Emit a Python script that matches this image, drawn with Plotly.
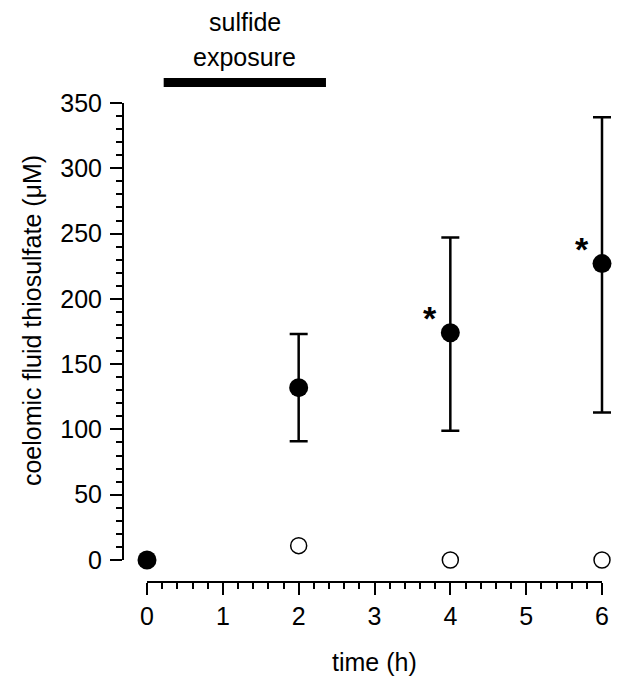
import plotly.graph_objects as go

# data
time_sulfide = [0, 2, 4, 6]
thio_sulfide = [0, 132, 174, 227]
err_plus = [0, 41, 73, 112]
err_minus = [0, 41, 75, 114]
time_control = [2, 4, 6]
thio_control = [11, 0, 0]
star_times = [4, 6]
star_values = [174, 227]
exposure_start = 0.22
exposure_end = 2.36
x_ticks = [0, 1, 2, 3, 4, 5, 6]
y_ticks = [0, 50, 100, 150, 200, 250, 300, 350]

W, H = 618, 679
ml, mr, mt, mb = 123, 0, 103, 97
pw = W - ml - mr          # 495
ph = H - mt - mb          # 479
x0_px = 147 - ml          # x=0 position inside plot area
x6_px = 602 - ml          # x=6 position inside plot area
yoff = 22                 # gap between x axis line and y=0
x_data_max = 6 * (pw - x0_px) / (x6_px - x0_px)

FONT = "Liberation Sans, Arial, sans-serif"


def py(pix):
    return (mt + ph - pix) / ph


def px(pix):
    return (pix - ml) / pw


fig = go.Figure()
# dummy trace so the display x axis is drawn
fig.add_trace(go.Scatter(x=[None], y=[None], xaxis="x", yaxis="y", showlegend=False,
                         hoverinfo="skip"))
fig.add_trace(go.Scatter(
    x=time_sulfide, y=thio_sulfide, mode="markers", xaxis="x2", yaxis="y",
    marker=dict(size=19, color="black", symbol="circle"),
    error_y=dict(type="data", symmetric=False, array=err_plus, arrayminus=err_minus,
                 color="black", thickness=2.5, width=9),
    cliponaxis=False, showlegend=False))
fig.add_trace(go.Scatter(
    x=time_control, y=thio_control, mode="markers", xaxis="x2", yaxis="y",
    marker=dict(size=16, color="white", symbol="circle", line=dict(color="black", width=1.5)),
    cliponaxis=False, showlegend=False))

for t, v in zip(star_times, star_values):
    fig.add_annotation(x=t, y=v, xref="x", yref="y", text="<b>*</b>", showarrow=False,
                       xshift=-20, yshift=15, xanchor="center", yanchor="middle",
                       font=dict(size=34, color="black", family=FONT))

fig.add_shape(type="rect", xref="x", yref="paper", x0=exposure_start, x1=exposure_end,
              y0=py(87), y1=py(78), fillcolor="black", line=dict(width=0))
xc = (exposure_start + exposure_end) / 2
fig.add_annotation(x=xc, xref="x", yref="paper", y=py(22), text="sulfide", showarrow=False,
                   xanchor="center", yanchor="middle",
                   font=dict(size=25, color="black", family=FONT))
fig.add_annotation(x=xc, xref="x", yref="paper", y=py(57), text="exposure", showarrow=False,
                   xanchor="center", yanchor="middle",
                   font=dict(size=25, color="black", family=FONT))

# axis titles
fig.add_annotation(x=3, xref="x", yref="paper", y=py(662), text="time (h)", showarrow=False,
                   xanchor="center", yanchor="middle",
                   font=dict(size=25, color="black", family=FONT))
fig.add_annotation(x=px(32), xref="paper", yref="y", y=183,
                   text="coelomic fluid thiosulfate (μM)",
                   textangle=-90, showarrow=False, xanchor="center", yanchor="middle",
                   font=dict(size=25, color="black", family=FONT))

axis_common = dict(showline=True, linecolor="black", linewidth=2, showgrid=False, zeroline=False,
                   ticks="outside", ticklen=12, tickwidth=2, tickcolor="black",
                   tickfont=dict(size=25, family=FONT, color="black"), automargin=False)

fig.update_layout(
    width=W, height=H, margin=dict(l=ml, r=mr, t=mt, b=mb, pad=0),
    plot_bgcolor="white", paper_bgcolor="white",
    font=dict(family=FONT, size=25, color="black"),
    xaxis=dict(domain=[x0_px / pw, x6_px / pw], range=[0, 6], anchor="free", position=0,
               tickvals=x_ticks,
               minor=dict(dtick=0.2, ticks="outside", ticklen=6, tickwidth=1.5,
                          tickcolor="black", showgrid=False),
               **axis_common),
    xaxis2=dict(domain=[x0_px / pw, 1], range=[0, x_data_max], anchor="y", visible=False,
                showgrid=False, zeroline=False),
    yaxis=dict(domain=[yoff / ph, 1], range=[0, 350], anchor="free", position=0,
               tickvals=y_ticks, ticklabelstandoff=3,
               minor=dict(dtick=10, ticks="outside", ticklen=6, tickwidth=1.5,
                          tickcolor="black", showgrid=False),
               **axis_common),
)

fig.write_html("out.html", config={"displayModeBar": False},
               post_script="document.body.style.margin='0';")
